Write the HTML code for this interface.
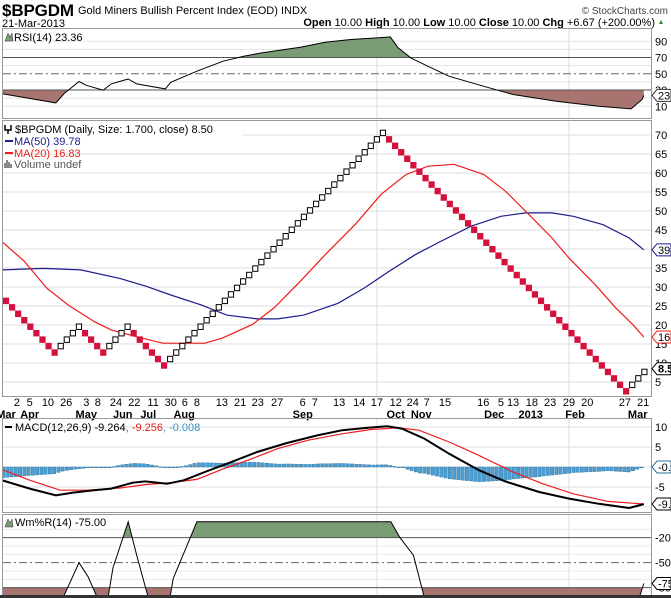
<!DOCTYPE html>
<html><head><meta charset="utf-8"><style>
body{margin:0;background:#fff;}
svg{display:block;font-family:"Liberation Sans",sans-serif;}
</style></head><body>
<svg id="c" width="671" height="598" viewBox="0 0 671 598" xmlns="http://www.w3.org/2000/svg">
<defs>
<clipPath id="cpR"><rect x="3" y="28" width="648" height="90"/></clipPath>
<clipPath id="cpM"><rect x="3" y="120" width="648" height="276"/></clipPath>
<clipPath id="cpD"><rect x="3" y="417" width="648" height="95"/></clipPath>
<clipPath id="cpW"><rect x="3" y="514" width="648" height="81"/></clipPath>
</defs>
<g>
<text x="2" y="16" font-size="17" font-weight="bold" textLength="72">$BPGDM</text>
<text x="78" y="14" font-size="11">Gold Miners Bullish Percent Index (EOD)  INDX</text>
<text x="668" y="14" font-size="10" text-anchor="end" fill="#444">© StockCharts.com</text>
<text x="2" y="27" font-size="11">21-Mar-2013</text>
<text x="655" y="26" font-size="11" text-anchor="end"><tspan font-weight="bold">Open</tspan> 10.00 <tspan font-weight="bold">High</tspan> 10.00 <tspan font-weight="bold">Low</tspan> 10.00 <tspan font-weight="bold">Close</tspan> 10.00 <tspan font-weight="bold">Chg</tspan> +6.67 (+200.00%)</text>
<path d="M659 24 L663 24 L661 20 Z" fill="#2a8a2a"/>
</g>
<g id="g"></g>
<rect x="0" y="595" width="671" height="3" fill="#333"/>
</svg>
<script>
// ---- data ----
const boxSize = 1.7;
// P&F runs: [type, startBox, endBox] (box index * 1.7 = price)
const pfRuns = [["O",16,8],["X",9,12],["O",11,8],["X",9,12],["O",11,6],["X",7,42],["O",41,2],["X",3,5]];
// MA series as [column, value]
const ma50 = [[-0.7,34.5],[6.1,34.9],[12.3,34.5],[18.8,32.2],[22.9,30.3],[27.1,27.9],[32.1,25.3],[36.3,22.6],[41.3,21.6],[44.7,21.6],[49,22.6],[54.6,25.7],[58.9,29.7],[63,34.1],[67.3,38.5],[71.5,42],[76.5,46],[81.4,48.6],[85.5,49.5],[89.8,49.5],[93.3,48.6],[98.2,46.4],[102.5,42.9],[104.9,39.78]];
const ma20 = [[-0.7,42],[3,36.8],[6.7,29.7],[10.2,25.3],[14.5,20.9],[17.3,18.7],[21.5,16.9],[25.8,15.2],[32.7,15.2],[35.5,16.5],[40.5,20.1],[44.1,24.5],[48.4,31.5],[52.5,38.5],[57.4,46.4],[61.7,54.4],[65.8,59.6],[69.4,61.8],[73.7,62.3],[78.6,59.6],[82.1,55.3],[86.3,48.6],[89.8,42.9],[92.6,37.6],[96.9,30.6],[100.3,24.5],[103.1,20.1],[104.9,16.83]];
const rsi = [[-0.7,25.6],[8.2,14.1],[9.5,25.2],[12,40.4],[13.2,35.8],[16,29.7],[17.3,37.5],[20.1,43.6],[21.5,37.5],[26.2,31.3],[27.1,39.5],[31.4,53.1],[35.7,65.4],[39.1,71.5],[41.9,75.6],[48.4,82.6],[52.5,88.8],[56.7,92.1],[61,94.1],[63.2,95.3],[64.5,81.8],[66.6,69.5],[69.4,59.2],[72.9,46.9],[78.6,34.6],[83.4,24.4],[90.5,16.2],[97.5,10],[102.8,6.7],[104.6,18.2],[104.9,23.36]];
const macd = [[-0.7,-3.3],[3.9,-5.4],[8.2,-7.1],[11,-6.4],[14.5,-5.8],[17.3,-5.4],[20.9,-3.9],[22.9,-3.6],[26.5,-4.2],[29.3,-3.3],[32.7,-1.25],[36.3,0.8],[41.3,3.75],[46.2,6],[51.2,7.9],[55.3,9.2],[59.5,9.8],[62.7,10.2],[65.1,9.6],[68.8,7.1],[72.9,3.3],[77.8,-0.8],[82.1,-3.6],[87.7,-6.25],[92.6,-7.9],[97.5,-9.2],[102.5,-10.25],[104.9,-9.264]];
const signal = [[-0.7,-0.6],[3.9,-3.3],[8.9,-5.8],[13.2,-5.8],[18.8,-5.25],[22.9,-4.4],[27.1,-3.9],[31.4,-3.1],[35.5,-0.6],[39.8,1.7],[44.7,4.6],[49.7,6.7],[55.3,8.3],[60.2,9.4],[64.5,9.8],[67.9,9.2],[72.9,6.25],[77.8,2.9],[83.4,-1.25],[88.3,-4.2],[93.3,-6.7],[99,-8.6],[104.9,-9.256]];
const willr = [[-0.7,-100],[8.9,-100],[12,-50],[13.5,-67],[15.5,-100],[16.6,-100],[17.6,-56],[20.1,-1],[21.5,-41],[23.7,-100],[26.8,-100],[27.5,-69],[31.4,-1],[63.3,-1],[64.8,-20],[67,-41],[69.1,-100],[103.8,-100],[104.9,-75]];
const dayLabels = [[1.8,"2"],[3.9,"5"],[6.9,"10"],[9.9,"26"],[13.2,"3"],[15.1,"8"],[18.1,"24"],[21.1,"22"],[24.2,"11"],[27.1,"30"],[29.4,"6"],[31.4,"8"],[35.5,"13"],[38.5,"21"],[41.4,"23"],[44.6,"27"],[48.8,"6"],[50.8,"7"],[54.8,"13"],[58.1,"14"],[61,"17"],[64.1,"12"],[66.9,"24"],[69.2,"7"],[72.2,"15"],[78.5,"16"],[81.4,"5"],[83.4,"13"],[86.5,"18"],[89.5,"23"],[92.6,"29"],[95.6,"20"],[101.8,"27"],[104.8,"21"]];
const monthLabels = [[0,"Mar"],[3.9,"Apr"],[13.2,"May"],[19.2,"Jun"],[23.4,"Jul"],[29.3,"Aug"],[48.8,"Sep"],[64.1,"Oct"],[68.3,"Nov"],[80.3,"Dec"],[86.3,"2013"],[93.6,"Feb"],[103.9,"Mar"]];
const mainTicks = [70,65,60,55,50,45,40,35,30,25,20,15,10,5];
const rsiTicks = [90,70,50,30,10];
const macdTicks = [10,5,0,-5];
const wrTicks = [-20,-50,-80];

// ---- scales ----
const X = c => 6 + c*6.08;
const yM = v => 135 + (70-v)*3.8;
const yR = v => 90 - (v-30)*0.8125;
const yD = v => 467 - v*4;
const yW = v => 521 - v*0.8333;
const NS = "http://www.w3.org/2000/svg";
const G = document.getElementById('g');
function mk(tag, attrs, parent){const e=document.createElementNS(NS,tag);for(const k in attrs)e.setAttribute(k,attrs[k]);(parent||G).appendChild(e);return e;}
function txt(x,y,s,attrs,parent){const e=mk('text',Object.assign({x:x,y:y,'font-size':11},attrs||{}),parent);e.textContent=s;return e;}
function pts(arr,ys){return arr.map(p=>X(p[0]).toFixed(1)+","+ys(p[1]).toFixed(1)).join(" ");}
function interp(arr,c){if(c<=arr[0][0])return arr[0][1];for(let i=1;i<arr.length;i++){if(c<=arr[i][0]){const a=arr[i-1],b=arr[i];return a[1]+(b[1]-a[1])*(c-a[0])/(b[0]-a[0]);}}return arr[arr.length-1][1];}
function tag(y,label,color,bold){
  const g=mk('g',{});
  
  
  mk('path',{d:`M652 ${y} L657 ${y-6} L671 ${y-6} L671 ${y+6} L657 ${y+6} Z`,fill:'#fff',stroke:color,'stroke-width':1},g);
  txt(658,y+4,label,{fill:bold?'#000':'#000','font-weight':bold?'bold':'normal','font-size':11},g);
}
function panel(y0,h,name){
  const r=mk('rect',{x:2.5,y:y0+.5,width:649,height:h,fill:'none',stroke:'#999'});
  
  
}
function vgrid(y0,y1){[61,92.6].forEach(c=>mk('line',{x1:X(c),x2:X(c),y1:y0,y2:y1,stroke:'#ddd'}));}

// ---- RSI panel ----
vgrid(28,118);
[90,10,80,60,40,20].forEach(v=>mk('line',{x1:3,x2:651,y1:yR(v),y2:yR(v),stroke:'#e3e3e3'}));
(function(){
  const g=mk('g',{'clip-path':'url(#cpR)'});
  
  
  const up=mk('clipPath',{id:'rsiUp'},g);mk('rect',{x:0,y:0,width:671,height:yR(70)},up);
  const dn=mk('clipPath',{id:'rsiDn'},g);mk('rect',{x:0,y:yR(30),width:671,height:100},dn);
  const poly="M"+X(rsi[0][0])+","+yR(rsi[0][1])+" L"+pts(rsi,yR);
  const f1=mk('path',{d:poly+` L${X(104.9)},${yR(70)} L${X(-0.7)},${yR(70)} Z`,fill:'#7a9c74','clip-path':'url(#rsiUp)'},g);
  
  
  const f2=mk('path',{d:poly+` L${X(104.9)},${yR(30)} L${X(-0.7)},${yR(30)} Z`,fill:'#a87470','clip-path':'url(#rsiDn)'},g);
  
  
  mk('line',{x1:3,x2:651,y1:yR(70),y2:yR(70),stroke:'#555'},g);
  mk('line',{x1:3,x2:651,y1:yR(30),y2:yR(30),stroke:'#555'},g);
  mk('line',{x1:3,x2:651,y1:yR(50),y2:yR(50),stroke:'#666','stroke-dasharray':'8,3,2,3'},g);
  const l=mk('polyline',{points:pts(rsi,yR),fill:'none',stroke:'#000','stroke-width':1},g);
  
  
})();
panel(28,90,'rsi-panel');
rsiTicks.forEach(v=>{const t=txt(655,yR(v)+4,String(v),{'font-size':11});});
(function(){const t=txt(14,41,'RSI(14) 23.36',{'font-size':11});
mk('path',{d:'M5 41 L8 33 L10 37 L12 33 L13 41 Z',fill:'#7a9c74',stroke:'#333','stroke-width':.5});})();
tag(yR(23.36),'23.3','#333',false);

// ---- Main panel ----
vgrid(120,396);
mainTicks.forEach(v=>mk('line',{x1:3,x2:651,y1:yM(v),y2:yM(v),stroke:'#ddd'}));
(function(){
  const g=mk('g',{'clip-path':'url(#cpM)'});
  
  
  const m50=mk('polyline',{points:pts(ma50,yM),fill:'none',stroke:'#1c1c8c','stroke-width':1.2},g);
  
  
  const m20=mk('polyline',{points:pts(ma20,yM),fill:'none',stroke:'#ee1c1c','stroke-width':1.2},g);
  
  
  let col=0;
  pfRuns.forEach(run=>{
    const t=run[0],s=run[1],e=run[2],step=e>=s?1:-1;
    for(let k=s;;k+=step){
      const top=yM(k*boxSize),bot=yM((k-1)*boxSize);
      const r=mk('rect',{x:X(col)-2.6,y:top+0.5,width:5.2,height:bot-top-1,fill:t==='X'?'#fff':'#d4103c',stroke:t==='X'?'#000':'#d4103c','stroke-width':1},g);
      
      
      col++;
      if(k===e)break;
    }
  });
})();
panel(120,276,'price-panel');
mainTicks.forEach(v=>{const t=txt(655,yM(v)+4,String(v),{'font-size':11});});
(function(){
  const L=[['$BPGDM (Daily, Size: 1.700, close) 8.50','#000',133],['MA(50) 39.78','#1c1c8c',145],['MA(20) 16.83','#ee1c1c',157],['Volume undef','#555',168]];
  mk('rect',{x:3,y:124,width:240,height:12,fill:'#fff'});
  L.forEach((l,i)=>{const t=txt(i===0?15:14,l[2],l[0],{fill:l[1],'font-size':11});
    if(i===1||i===2)mk('line',{x1:5,x2:13,y1:l[2]-4,y2:l[2]-4,stroke:l[1],'stroke-width':2});});
  mk('path',{d:'M5 125 L5 130 L8 130 L8 134 M11 125 L11 130 L8 130',fill:'none',stroke:'#000','stroke-width':1.5});
  mk('path',{d:'M5 168 L5 163 M7 168 L7 160 M9 168 L9 162 M11 168 L11 164',stroke:'#555','stroke-width':1.4});
})();
tag(yM(39.78),'39.7','#1c1c8c',false);
tag(yM(16.83),'16.8','#ee1c1c',false);
tag(yM(8.5),'8.50','#000',true);
dayLabels.forEach(d=>{const t=txt(X(d[0]),406,d[1],{'text-anchor':'middle','font-size':11});});
monthLabels.forEach(d=>{const t=txt(X(d[0]),418,d[1],{'text-anchor':'middle','font-size':11,'font-weight':'bold'});});

// ---- MACD panel ----
vgrid(418,512);
[10,5,0,-5,-10].forEach(v=>mk('line',{x1:3,x2:651,y1:yD(v),y2:yD(v),stroke:'#e0e0e0'}));
(function(){
  const g=mk('g',{'clip-path':'url(#cpD)'});
  
  
  for(let c=-0.5;c<=104.9;c+=0.7){
    const h=interp(macd,c)-interp(signal,c);
    const y0=yD(0),y1=yD(h);
    const b=mk('rect',{x:X(c)-1.6,y:Math.min(y0,y1),width:3.4,height:Math.max(0.8,Math.abs(y1-y0)),fill:'#4b9fd2',stroke:'#2a6e9c','stroke-width':0.4},g);
    
    
  }
  const s=mk('polyline',{points:pts(signal,yD),fill:'none',stroke:'#ee1c1c','stroke-width':1.2},g);
  
  
  const m=mk('polyline',{points:pts(macd,yD),fill:'none',stroke:'#000','stroke-width':2},g);
  
  
})();
panel(418,94,'macd-panel');
macdTicks.forEach(v=>{const t=txt(655,yD(v)+4,String(v),{'font-size':11});});
(function(){const t=mk('text',{x:15,y:431,'font-size':11});
t.innerHTML='MACD(12,26,9) -9.264<tspan fill="#ee1c1c">, -9.256</tspan><tspan fill="#3a90c8">, -0.008</tspan>';
mk('line',{x1:5,x2:12,y1:427,y2:427,stroke:'#000','stroke-width':2});})();
tag(yD(0),'-0.0','#2a6e9c',false);
tag(yD(-9.264),'-9.2','#000',false);

// ---- Williams %R panel ----
vgrid(514,596);
[-10,-30,-40,-60,-70,-90].forEach(v=>mk('line',{x1:3,x2:651,y1:yW(v),y2:yW(v),stroke:'#e8e8e8'}));
(function(){
  const g=mk('g',{'clip-path':'url(#cpW)'});
  
  
  const up=mk('clipPath',{id:'wUp'},g);mk('rect',{x:0,y:0,width:671,height:yW(-20)},up);
  const dn=mk('clipPath',{id:'wDn'},g);mk('rect',{x:0,y:yW(-80),width:671,height:100},dn);
  const poly="M"+pts(willr,yW);
  const f1=mk('path',{d:poly+` L${X(104.9)},${yW(-20)} L${X(-0.7)},${yW(-20)} Z`,fill:'#7a9c74','clip-path':'url(#wUp)'},g);
  
  
  const f2=mk('path',{d:poly+` L${X(104.9)},${yW(-80)} L${X(-0.7)},${yW(-80)} Z`,fill:'#a87470','clip-path':'url(#wDn)'},g);
  
  
  mk('line',{x1:3,x2:651,y1:yW(-20),y2:yW(-20),stroke:'#555'},g);
  mk('line',{x1:3,x2:651,y1:yW(-80),y2:yW(-80),stroke:'#555'},g);
  mk('line',{x1:3,x2:651,y1:yW(-50),y2:yW(-50),stroke:'#666','stroke-dasharray':'8,3,2,3'},g);
  const l=mk('polyline',{points:pts(willr,yW),fill:'none',stroke:'#000','stroke-width':1},g);
  
  
})();
panel(514,82,'willr-panel');
wrTicks.forEach(v=>{const t=txt(655,yW(v)+4,String(v),{'font-size':11});});
(function(){const t=txt(15,526,'Wm%R(14) -75.00',{'font-size':11});
mk('path',{d:'M5 527 L8 519 L10 523 L12 519 L13 527 Z',fill:'#7a9c74',stroke:'#333','stroke-width':.5});})();
tag(yW(-75),'-75.','#000',false);
</script>
</body></html>
